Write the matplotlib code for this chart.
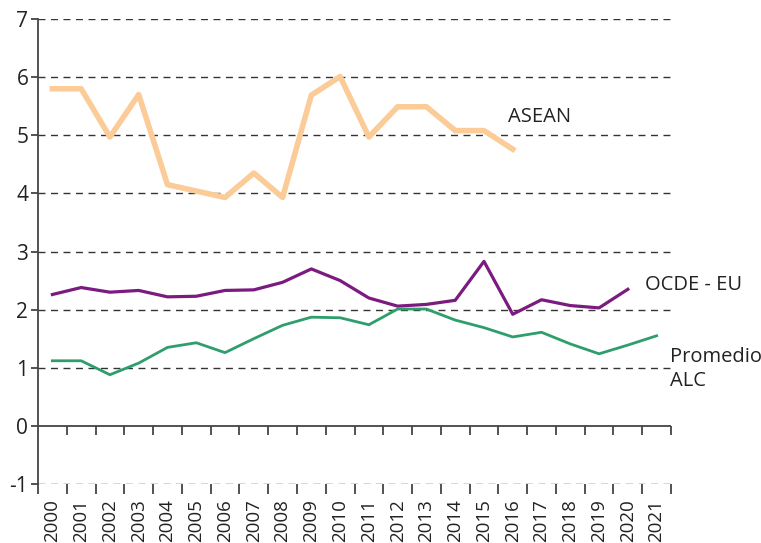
import matplotlib
matplotlib.use("Agg")
import matplotlib.pyplot as plt
import numpy as np

plt.rcParams['font.family'] = ['Open Sans', 'DejaVu Sans']

years = [str(y) for y in range(2000, 2022)]
asean = [5.80, 5.80, 4.97, 5.70, 4.15, 4.04, 3.93, 4.35, 3.93, 5.69, 6.01, 4.97,
         5.49, 5.49, 5.08, 5.08, 4.76]
ocde = [2.26, 2.38, 2.30, 2.33, 2.22, 2.23, 2.33, 2.34, 2.47, 2.70, 2.50, 2.20,
        2.06, 2.09, 2.16, 2.83, 1.92, 2.17, 2.07, 2.03, 2.35]
alc = [1.12, 1.12, 0.88, 1.08, 1.35, 1.43, 1.26, 1.50, 1.73, 1.87, 1.86, 1.74,
       2.01, 2.01, 1.82, 1.69, 1.53, 1.61, 1.41, 1.24, 1.39, 1.55]
yticks = [-1, 0, 1, 2, 3, 4, 5, 6, 7]

fig = plt.figure(figsize=(7.61, 5.43), dpi=100)
ax = fig.add_axes([38/761, 1-484/543, (671-38)/761, (484-19)/543])

n = len(years)
x = np.arange(n)
ax.set_xlim(-0.5, n - 0.5)
ax.set_ylim(-1, 7)

# gridlines
for v in yticks:
    if v == 0:
        ax.axhline(v, color='#444444', lw=1.3, zorder=2)
    else:
        ax.axhline(v, color='#333333', lw=1.0, ls=(0, (5, 4)), zorder=1)

# tick marks at y=0 line
bounds = np.arange(n + 1) - 0.5
ax.vlines(bounds[1:], -0.16, 0, color='#444444', lw=1.3, zorder=2, clip_on=False)

ax.plot(x[:len(asean)], asean, color='#FBCB98', lw=4, zorder=3)
ax.plot(x[:len(ocde)], ocde, color='#7B1A7F', lw=2.3, zorder=4)
ax.plot(x[:len(alc)], alc, color='#2E9E6B', lw=2.0, zorder=4)

ax.text(15.85, 5.32, 'ASEAN', fontsize=14.5, color='#222222', ha='left', va='center')
ax.text(20.6, 2.43, 'OCDE - EU', fontsize=14.5, color='#222222', ha='left', va='center')
ax.text(21.45, 0.98, 'Promedio\nALC', fontsize=14.5, color='#222222', ha='left', va='center',
        linespacing=1.3, clip_on=False)

for s in ['top', 'right', 'bottom']:
    ax.spines[s].set_visible(False)
ax.spines['left'].set_color('#444444')
ax.spines['left'].set_linewidth(1.3)

ax.set_yticks(yticks)
ax.set_yticklabels([str(v) for v in yticks], fontsize=15, color='#222222')
ax.tick_params(axis='y', length=5, width=1.3, color='#444444', pad=2)

ax.set_xticks(x)
ax.set_xticklabels(years, rotation=90, fontsize=13.5, color='#222222')
ax.tick_params(axis='x', which='major', length=0, pad=11)
ax.set_xticks(bounds, minor=True)
ax.tick_params(axis='x', which='minor', length=7, width=1.3, color='#444444')

fig.savefig('out.png', dpi=100)
